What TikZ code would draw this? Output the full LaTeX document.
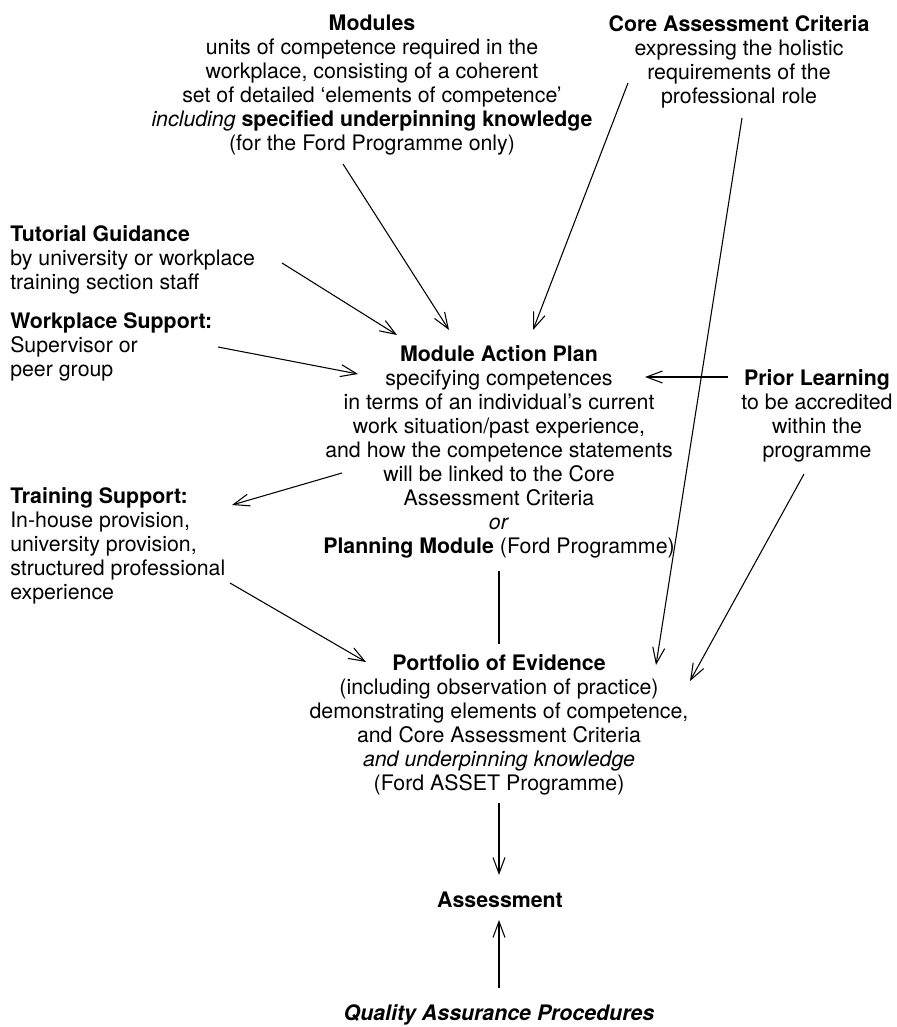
\documentclass[tikz,border=0pt]{standalone}
\usepackage{fontspec}
\setmainfont{TeX Gyre Heros}
\usetikzlibrary{arrows.meta}

\begin{document}
\begin{tikzpicture}[x=0.75pt,y=-0.75pt,
		>={Straight Barb[length=12pt,width=9pt]},
		txt/.style={inner sep=0pt,font=\fontsize{16}{18}\selectfont},
		ctr/.style={txt,align=center,anchor=north},
		lft/.style={txt,align=left,anchor=north west},
		link/.style={line width=0.8pt}]
		\useasboundingbox (0,0) rectangle (896,1027);
		
		\node[ctr] (modules) at (372,15) {\textbf{Modules}\\units of competence required in the\\workplace, consisting of a coherent\\set of detailed `elements of competence'\\\textit{including} \textbf{specified underpinning knowledge}\\(for the Ford Programme only)};
		\node[ctr] (core) at (739,15) {\textbf{Core Assessment Criteria}\\expressing the holistic\\requirements of the\\professional role};
		\node[lft] (tutorial) at (10,225) {\textbf{Tutorial Guidance}\\by university or workplace\\training section staff};
		\node[lft] (workplace) at (10,312) {\textbf{Workplace Support:}\\Supervisor or\\peer group};
		\node[lft] (training) at (10,487) {\textbf{Training Support:}\\In-house provision,\\university provision,\\structured professional\\experience};
		\node[ctr] (plan) at (499,345) {\textbf{Module Action Plan}\\specifying competences\\in terms of an individual's current\\work situation/past experience,\\and how the competence statements\\will be linked to the Core\\Assessment Criteria\\\textit{or}\\\textbf{Planning Module} (Ford Programme)};
		\node[ctr] (prior) at (817,369) {\textbf{Prior Learning}\\to be accredited\\within the\\programme};
		\node[ctr] (portfolio) at (499,654) {\textbf{Portfolio of Evidence}\\(including observation of practice)\\demonstrating elements of competence,\\and Core Assessment Criteria\\\textit{and underpinning knowledge}\\(Ford ASSET Programme)};
		\node[ctr] (assess) at (500,892) {\textbf{Assessment}};
		\node[ctr] (quality) at (499,1004) {\textbf{\textit{Quality Assurance Procedures}}};
		
		% arrow ends
		\coordinate (mod-out) at (343,164);
		\coordinate (mod-in) at (449,330);
		\coordinate (core-out1) at (628,83);
		\coordinate (core-in1) at (533,330);
		\coordinate (core-out2) at (742,118);
		\coordinate (core-in2) at (656,665);
		\coordinate (tut-out) at (282,263);
		\coordinate (tut-in) at (397,335);
		\coordinate (work-out) at (218,347);
		\coordinate (work-in) at (358,374);
		\coordinate (prior-out1) at (728,377);
		\coordinate (prior-in1) at (645,377);
		\coordinate (prior-out2) at (804,474);
		\coordinate (prior-in2) at (690,681);
		\coordinate (plan-out1) at (342,473);
		\coordinate (train-in) at (232,505);
		\coordinate (train-out) at (230,583);
		\coordinate (port-in) at (366,662);
		\coordinate (plan-out2) at (499,571);
		\coordinate (port-top) at (499,644);
		\coordinate (port-out) at (499,803);
		\coordinate (assess-top) at (499,875);
		\coordinate (qual-out) at (499,988);
		\coordinate (assess-bot) at (499,920);
		
		\draw[link,->] (mod-out) -- (mod-in);
		\draw[link,->] (core-out1) -- (core-in1);
		\draw[link,->] (core-out2) -- (core-in2);
		\draw[link,->] (tut-out) -- (tut-in);
		\draw[link,->] (work-out) -- (work-in);
		\draw[link,->] (prior-out1) -- (prior-in1);
		\draw[link,->] (prior-out2) -- (prior-in2);
		\draw[link,->] (plan-out1) -- (train-in);
		\draw[link,->] (train-out) -- (port-in);
		\draw[link] (plan-out2) -- (port-top);
		\draw[link,->] (port-out) -- (assess-top);
		\draw[link,->] (qual-out) -- (assess-bot);
	\end{tikzpicture}
\end{document}
